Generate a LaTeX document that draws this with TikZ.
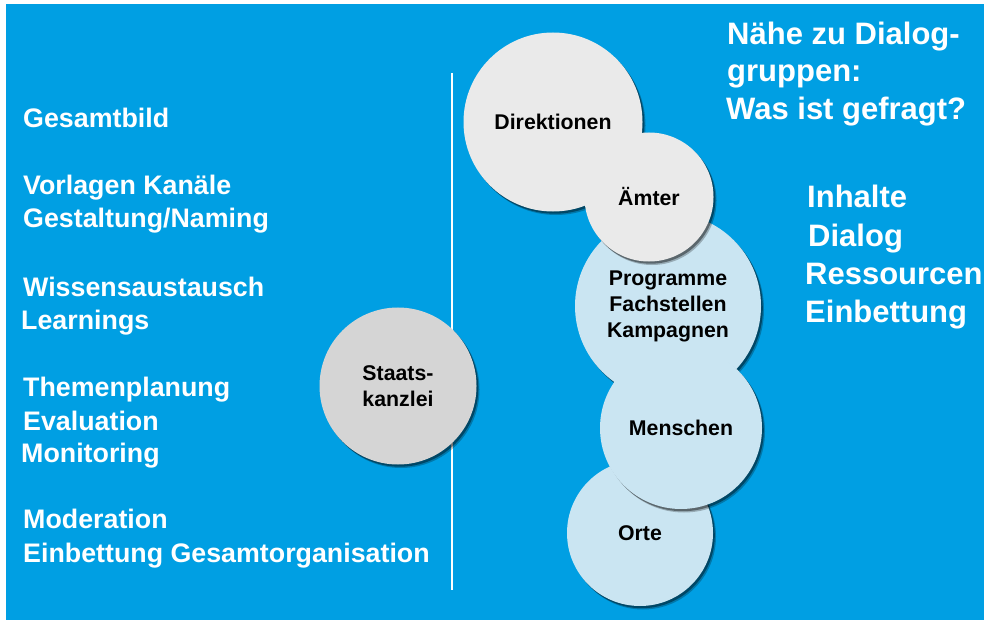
\documentclass[tikz,border=0pt]{standalone}
\usepackage{fontspec}
\setmainfont{Liberation Sans}
\usetikzlibrary{shadows}
\definecolor{skyblue}{RGB}{0,159,227}
\definecolor{paleblue}{RGB}{202,229,242}
\definecolor{palegray}{RGB}{234,234,234}
\definecolor{midgray}{RGB}{213,213,213}
\tikzset{
  lefttxt/.style={anchor=base west,inner sep=0pt,text=white,font=\bfseries\fontsize{26.8bp}{30bp}\selectfont},  % left list
  righttxt/.style={anchor=base west,inner sep=0pt,text=white,font=\bfseries\fontsize{31bp}{34bp}\selectfont}, % right list
  bubble/.style={circle,inner sep=0pt,align=center,text=black,
    font=\bfseries\fontsize{21.3bp}{26bp}\selectfont,
    drop shadow={shadow xshift=3bp,shadow yshift=-3.5bp,opacity=0.25,fill=black},
    drop shadow={shadow xshift=1.8bp,shadow yshift=-2.2bp,opacity=0.4,fill=black}},
  divider/.style={white,line width=1.2bp},
}

\begin{document}
\begin{tikzpicture}[x=1bp,y=-1bp]
  \useasboundingbox[fill=white] (0,0) rectangle (984,620);
  \fill[skyblue] (6,4) rectangle (984,620);
  \draw[divider] (452,73) -- (452,590);
  % left column
  \node[lefttxt] (gesamt) at (23,128) {Gesamtbild};
  \node[lefttxt] (vorlagen) at (23,195) {Vorlagen Kanäle};
  \node[lefttxt] (gestaltung) at (23,228) {Gestaltung/Naming};
  \node[lefttxt] (wissen) at (23,296) {Wissensaustausch};
  \node[lefttxt] (learn) at (21,329) {Learnings};
  \node[lefttxt] (themen) at (23,396) {Themenplanung};
  \node[lefttxt] (eval) at (23,430) {Evaluation};
  \node[lefttxt] (monitor) at (21,462) {Monitoring};
  \node[lefttxt] (moder) at (23,528) {Moderation};
  \node[lefttxt] (einbettorg) at (23,562) {Einbettung Gesamtorganisation};
  % circles
  \node[bubble,fill=midgray,minimum size=157bp] (staats) at (398,386) {Staats-\\kanzlei};
  \node[bubble,fill=paleblue,minimum size=146bp] (orte) at (640,533) {Orte};
  \node[bubble,fill=paleblue,minimum size=186bp] (progr) at (668,306) {Programme\\Fachstellen\\Kampagnen};
  \node[bubble,fill=paleblue,minimum size=162bp] (menschen) at (681,428) {Menschen};
  \node[bubble,fill=palegray,minimum size=179bp] (direkt) at (553,122) {Direktionen};
  \node[bubble,fill=palegray,minimum size=129bp] (aemter) at (649,197) {Ämter};
  % right column
  \node[righttxt] (naehe) at (727,45) {Nähe zu Dialog-};
  \node[righttxt] (gruppen) at (727,82) {gruppen:};
  \node[righttxt] (gefragt) at (726,120) {Was ist gefragt?};
  \node[righttxt] (inhalte) at (807,208) {Inhalte};
  \node[righttxt] (dialog) at (808,247) {Dialog};
  \node[righttxt] (ressourcen) at (805,285) {Ressourcen};
  \node[righttxt] (einbett) at (805,322) {Einbettung};
\end{tikzpicture}
\end{document}
